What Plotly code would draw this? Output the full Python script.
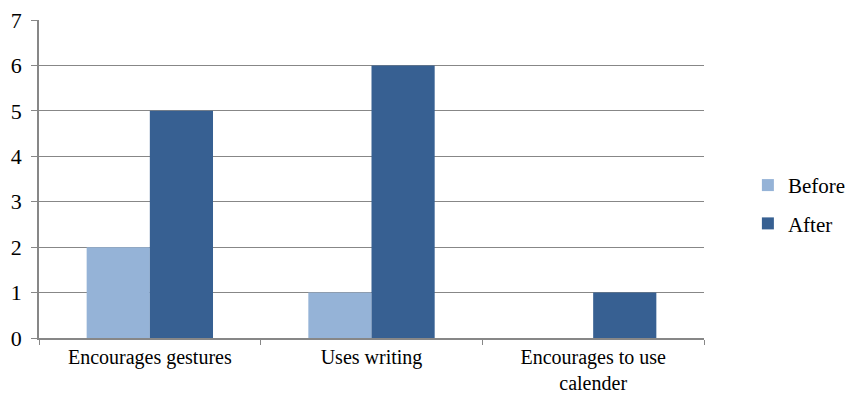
import plotly.graph_objects as go

categories = ["Encourages gestures", "Uses writing", "Encourages to use<br>calender"]
before = [2, 1, 0]
after = [5, 6, 1]
y_ticks = [0, 1, 2, 3, 4, 5, 6, 7]

font_family = "Times New Roman, Liberation Serif, serif"
axis_gray = "#878787"

fig = go.Figure()
fig.add_trace(go.Bar(name="Before", x=categories, y=before, marker_color="#95B3D7",
                     marker_line_width=0, legendgroup="b"))
fig.add_trace(go.Bar(name="After", x=categories, y=after, marker_color="#376092",
                     marker_line_width=0, legendgroup="a"))

fig.update_layout(
    width=849, height=395,
    margin=dict(l=39, r=145, t=20, b=57, autoexpand=False),
    paper_bgcolor="white", plot_bgcolor="white",
    barmode="group", bargap=0.43, bargroupgap=0,
    font=dict(family=font_family, size=21, color="black"),
    legend=dict(x=1.066, y=0.42, xanchor="left", yanchor="middle",
                traceorder="grouped", tracegroupgap=8,
                font=dict(family=font_family, size=21)),
    showlegend=True,
)
fig.update_xaxes(
    type="category", tickson="boundaries", ticks="outside", ticklen=5,
    tickcolor=axis_gray, showline=True, linecolor=axis_gray, linewidth=1.5,
    showgrid=False, tickfont=dict(family=font_family, size=20), ticklabelstandoff=0,
)
fig.update_yaxes(
    range=[0, 7], tickvals=y_ticks, ticks="outside", ticklen=6,
    tickcolor=axis_gray, showline=True, linecolor=axis_gray, linewidth=1.5,
    showgrid=True, gridcolor=axis_gray, gridwidth=1.2, zeroline=False,
    tickfont=dict(family=font_family, size=22), ticklabelstandoff=5,
)

fig.write_html("out.html")
